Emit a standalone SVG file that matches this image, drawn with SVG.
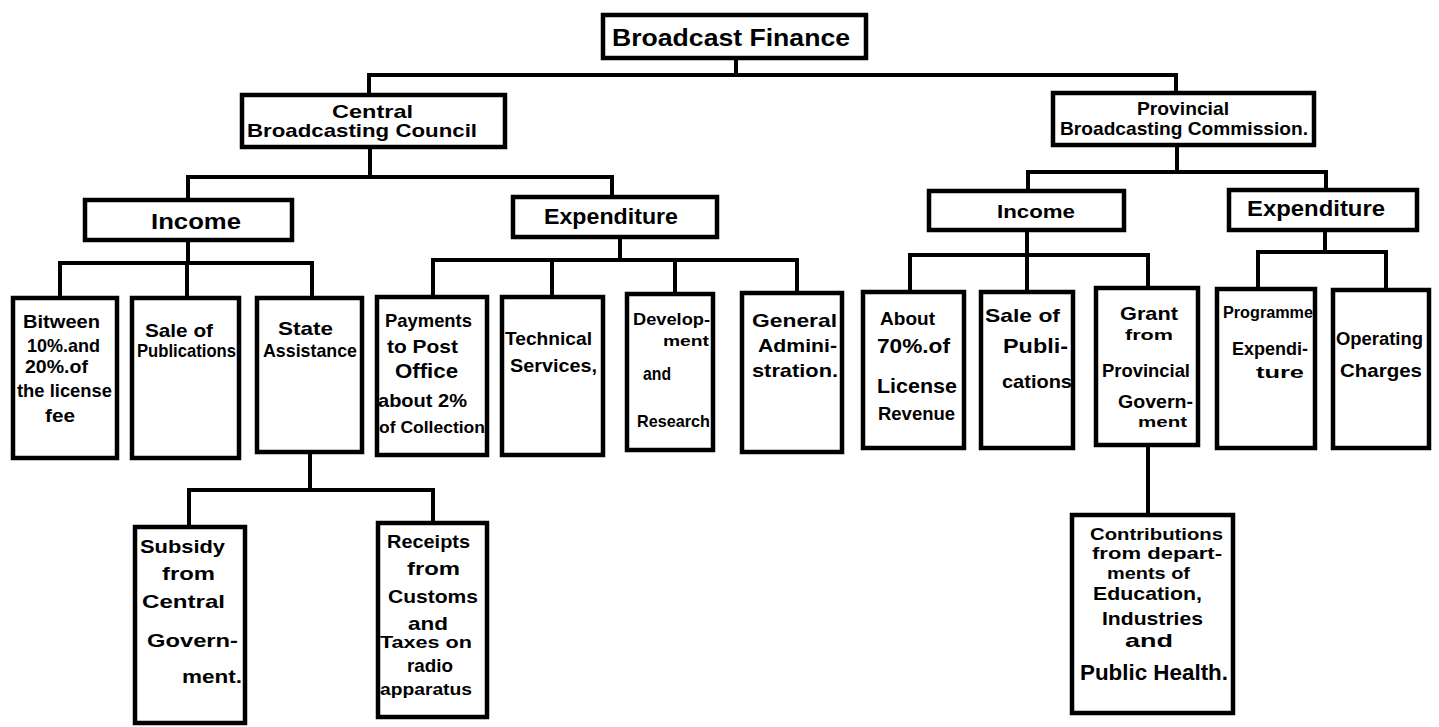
<svg xmlns="http://www.w3.org/2000/svg" width="1439" height="727" viewBox="0 0 1439 727">
<style>
.box{fill:#fff;stroke:#000;stroke-width:4.5}
.c{stroke:#000;stroke-width:4;fill:none;stroke-linecap:square}
text{font-family:"Liberation Sans",Arial,sans-serif;font-weight:bold;fill:#000;font-size:19px}
.h{font-size:22px}
.s{font-size:14px}
.t{font-size:16px}
</style>
<rect width="1439" height="727" fill="#fff"/>
<g id="connectors">
<path class="c" d="M736,58V75M369,75H1176M369,75V95M1176,75V93"/>
<path class="c" d="M370,147V177M188,177H612M188,177V200M612,177V197"/>
<path class="c" d="M188,240V263M60,263H312M60,263V298M187,263V298M312,263V298"/>
<path class="c" d="M620,237V260M433,260H797M433,260V297M552,260V297M675,260V294M797,260V293"/>
<path class="c" d="M310,452V490M189,490H433M189,490V527M433,490V523"/>
<path class="c" d="M1177,145V172M1028,172H1326M1028,172V191M1326,172V191"/>
<path class="c" d="M1027,230V255M910,255H1148M910,255V292M1027,255V292M1148,255V288"/>
<path class="c" d="M1325,230V252M1258,252H1386M1258,252V289M1386,252V290"/>
<path class="c" d="M1148,445V515"/>
</g>
<g id="root"><rect class="box" x="603" y="15" width="263" height="43"/><text x="612" y="46" textLength="238" lengthAdjust="spacingAndGlyphs" style="font-size:23px">Broadcast  Finance</text></g>
<g id="cbc"><rect class="box" x="242" y="95" width="263" height="52"/><text x="332" y="118" textLength="81" lengthAdjust="spacingAndGlyphs">Central</text><text x="247" y="137" textLength="230" lengthAdjust="spacingAndGlyphs">Broadcasting Council</text></g>
<g id="pbc"><rect class="box" x="1053" y="93" width="261" height="52"/><text x="1137" y="115" textLength="92" lengthAdjust="spacingAndGlyphs">Provincial</text><text x="1060" y="135" textLength="248" lengthAdjust="spacingAndGlyphs">Broadcasting Commission.</text></g>
<g id="cbc-income"><rect class="box" x="85" y="200" width="207" height="40"/><text class="h" x="151" y="229" textLength="90" lengthAdjust="spacingAndGlyphs">Income</text></g>
<g id="cbc-exp"><rect class="box" x="513" y="197" width="204" height="40"/><text class="h" x="544" y="224" textLength="134" lengthAdjust="spacingAndGlyphs">Expenditure</text></g>
<g id="pbc-income"><rect class="box" x="929" y="191" width="195" height="39"/><text x="997" y="218" textLength="78" lengthAdjust="spacingAndGlyphs">Income</text></g>
<g id="pbc-exp"><rect class="box" x="1229" y="190" width="188" height="40"/><text class="h" x="1247" y="216" textLength="138" lengthAdjust="spacingAndGlyphs">Expenditure</text></g>
<g id="bitween"><rect class="box" x="13" y="298" width="104" height="160"/>
<text x="23" y="328" textLength="77" lengthAdjust="spacingAndGlyphs">Bitween</text>
<text x="27" y="352" textLength="73" lengthAdjust="spacingAndGlyphs">10%.and</text>
<text x="25" y="373" textLength="63" lengthAdjust="spacingAndGlyphs">20%.of</text>
<text x="17" y="397" textLength="95" lengthAdjust="spacingAndGlyphs">the license</text>
<text x="45" y="422" textLength="30" lengthAdjust="spacingAndGlyphs">fee</text></g>
<g id="sale1"><rect class="box" x="132" y="298" width="107" height="160"/>
<text x="145" y="337" textLength="68" lengthAdjust="spacingAndGlyphs">Sale of</text>
<text x="137" y="357" textLength="99" lengthAdjust="spacingAndGlyphs">Publications</text></g>
<g id="state"><rect class="box" x="257" y="298" width="105" height="154"/>
<text x="278" y="335" textLength="55" lengthAdjust="spacingAndGlyphs">State</text>
<text x="263" y="357" textLength="94" lengthAdjust="spacingAndGlyphs">Assistance</text></g>
<g id="payments"><rect class="box" x="377" y="297" width="110" height="158"/>
<text x="385" y="327" textLength="87" lengthAdjust="spacingAndGlyphs">Payments</text>
<text x="387" y="353" textLength="71" lengthAdjust="spacingAndGlyphs">to Post</text>
<text x="395" y="378" textLength="63" lengthAdjust="spacingAndGlyphs" style="font-size:21px">Office</text>
<text x="378" y="407" textLength="89" lengthAdjust="spacingAndGlyphs">about 2%</text>
<text x="379" y="433" textLength="106" lengthAdjust="spacingAndGlyphs" style="font-size:17px">of Collection</text></g>
<g id="technical"><rect class="box" x="502" y="297" width="101" height="158"/>
<text x="505" y="345" textLength="87" lengthAdjust="spacingAndGlyphs">Technical</text>
<text x="510" y="372" textLength="87" lengthAdjust="spacingAndGlyphs">Services,</text></g>
<g id="development"><rect class="box" x="627" y="294" width="86" height="156"/>
<text x="633" y="325" textLength="77" lengthAdjust="spacingAndGlyphs" style="font-size:17px">Develop-</text>
<text class="s" x="663" y="346" textLength="46" lengthAdjust="spacingAndGlyphs">ment</text>
<text x="643" y="380" textLength="28" lengthAdjust="spacingAndGlyphs">and</text>
<text x="637" y="427" textLength="73" lengthAdjust="spacingAndGlyphs" style="font-size:17px">Research</text></g>
<g id="general"><rect class="box" x="742" y="293" width="100" height="159"/>
<text x="752" y="327" textLength="85" lengthAdjust="spacingAndGlyphs">General</text>
<text x="758" y="352" textLength="79" lengthAdjust="spacingAndGlyphs">Admini-</text>
<text x="752" y="377" textLength="86" lengthAdjust="spacingAndGlyphs">stration.</text></g>
<g id="about"><rect class="box" x="863" y="292" width="101" height="156"/>
<text x="880" y="325" textLength="55" lengthAdjust="spacingAndGlyphs">About</text>
<text x="877" y="353" textLength="73" lengthAdjust="spacingAndGlyphs" style="font-size:21px">70%.of</text>
<text x="877" y="393" textLength="80" lengthAdjust="spacingAndGlyphs" style="font-size:21px">License</text>
<text x="878" y="420" textLength="77" lengthAdjust="spacingAndGlyphs">Revenue</text></g>
<g id="sale2"><rect class="box" x="981" y="292" width="92" height="156"/>
<text x="985" y="322" textLength="75" lengthAdjust="spacingAndGlyphs">Sale of</text>
<text x="1003" y="353" textLength="65" lengthAdjust="spacingAndGlyphs" style="font-size:21px">Publi-</text>
<text x="1002" y="388" textLength="70" lengthAdjust="spacingAndGlyphs">cations</text></g>
<g id="grant"><rect class="box" x="1096" y="288" width="102" height="157"/>
<text x="1120" y="320" textLength="58" lengthAdjust="spacingAndGlyphs">Grant</text>
<text class="s" x="1125" y="340" textLength="48" lengthAdjust="spacingAndGlyphs">from</text>
<text x="1102" y="377" textLength="88" lengthAdjust="spacingAndGlyphs">Provincial</text>
<text x="1118" y="408" textLength="75" lengthAdjust="spacingAndGlyphs">Govern-</text>
<text class="s" x="1138" y="427" textLength="49" lengthAdjust="spacingAndGlyphs">ment</text></g>
<g id="programme"><rect class="box" x="1217" y="289" width="98" height="159"/>
<text x="1223" y="318" textLength="90" lengthAdjust="spacingAndGlyphs" style="font-size:16px">Programme</text>
<text x="1232" y="355" textLength="76" lengthAdjust="spacingAndGlyphs">Expendi-</text>
<text x="1256" y="378" textLength="48" lengthAdjust="spacingAndGlyphs" style="font-size:17px">ture</text></g>
<g id="operating"><rect class="box" x="1333" y="290" width="96" height="158"/>
<text x="1336" y="345" textLength="87" lengthAdjust="spacingAndGlyphs">Operating</text>
<text x="1340" y="377" textLength="82" lengthAdjust="spacingAndGlyphs">Charges</text></g>
<g id="subsidy"><rect class="box" x="135" y="527" width="110" height="196"/>
<text x="140" y="553" textLength="85" lengthAdjust="spacingAndGlyphs">Subsidy</text>
<text x="162" y="580" textLength="53" lengthAdjust="spacingAndGlyphs">from</text>
<text x="142" y="608" textLength="83" lengthAdjust="spacingAndGlyphs">Central</text>
<text x="147" y="647" textLength="91" lengthAdjust="spacingAndGlyphs">Govern-</text>
<text x="182" y="683" textLength="60" lengthAdjust="spacingAndGlyphs">ment.</text></g>
<g id="receipts"><rect class="box" x="378" y="523" width="109" height="194"/>
<text x="387" y="548" textLength="83" lengthAdjust="spacingAndGlyphs">Receipts</text>
<text x="407" y="575" textLength="53" lengthAdjust="spacingAndGlyphs">from</text>
<text x="388" y="603" textLength="90" lengthAdjust="spacingAndGlyphs">Customs</text>
<text x="408" y="630" textLength="40" lengthAdjust="spacingAndGlyphs">and</text>
<text x="380" y="648" textLength="92" lengthAdjust="spacingAndGlyphs" style="font-size:17px">Taxes on</text>
<text x="407" y="672" textLength="46" lengthAdjust="spacingAndGlyphs">radio</text>
<text x="380" y="695" textLength="92" lengthAdjust="spacingAndGlyphs" style="font-size:17px">apparatus</text></g>
<g id="contributions"><rect class="box" x="1072" y="515" width="161" height="198"/>
<text class="t" x="1090" y="540" textLength="133" lengthAdjust="spacingAndGlyphs">Contributions</text>
<text class="t" x="1092" y="559" textLength="130" lengthAdjust="spacingAndGlyphs">from depart-</text>
<text class="t" x="1107" y="579" textLength="83" lengthAdjust="spacingAndGlyphs">ments of</text>
<text x="1093" y="600" textLength="109" lengthAdjust="spacingAndGlyphs">Education,</text>
<text x="1102" y="625" textLength="101" lengthAdjust="spacingAndGlyphs">Industries</text>
<text x="1125" y="647" textLength="48" lengthAdjust="spacingAndGlyphs">and</text>
<text x="1080" y="680" textLength="148" lengthAdjust="spacingAndGlyphs" style="font-size:22px">Public Health.</text></g>
</svg>
